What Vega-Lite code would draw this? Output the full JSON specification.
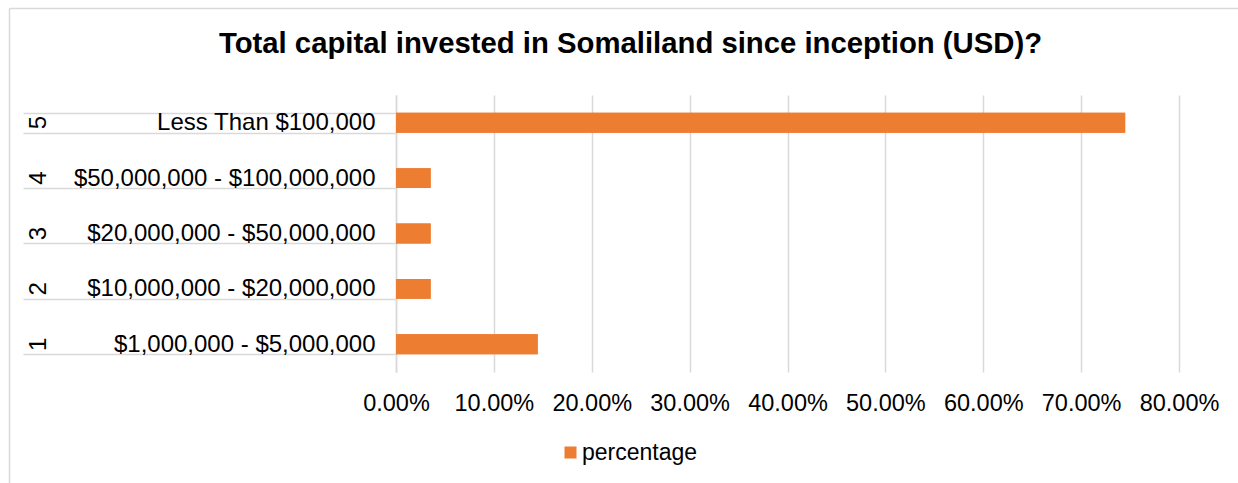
{
  "$schema": "https://vega.github.io/schema/vega-lite/v6.json",
  "autosize": {"type": "none"},
  "width": 783,
  "height": 277,
  "padding": {"left": 396, "top": 95, "right": 59, "bottom": 111},
  "background": "#ffffff",
  "title": {
    "text": "Total capital invested in Somaliland since inception (USD)?",
    "font": "Liberation Sans",
    "fontSize": 29.3,
    "fontWeight": "bold",
    "color": "#000000",
    "anchor": "middle",
    "frame": "group",
    "dx": -157,
    "baseline": "alphabetic",
    "offset": -74
  },
  "config": {
    "view": {"stroke": null},
    "font": "Liberation Sans",
    "axis": {"labelFont": "Liberation Sans", "labelColor": "#000000", "titleColor": "#000000"}
  },
  "data": {
    "values": [
      {"num": 5, "label": "Less Than $100,000", "pct": 0.745},
      {"num": 4, "label": "$50,000,000 - $100,000,000", "pct": 0.0354},
      {"num": 3, "label": "$20,000,000 - $50,000,000", "pct": 0.0354},
      {"num": 2, "label": "$10,000,000 - $20,000,000", "pct": 0.0354},
      {"num": 1, "label": "$1,000,000 - $5,000,000", "pct": 0.1448}
    ]
  },
  "layer": [
    {
      "mark": {"type": "bar", "color": "#ED7D31"},
      "encoding": {
        "x": {
          "field": "pct",
          "type": "quantitative",
          "scale": {"domain": [0, 0.8], "nice": false},
          "axis": {
            "orient": "bottom",
            "values": [0, 0.1, 0.2, 0.3, 0.4, 0.5, 0.6, 0.7, 0.8],
            "format": ".2%",
            "labelFontSize": 23.5,
            "labelPadding": 19,
            "labelOverlap": false,
            "labelFlush": false,
            "ticks": false,
            "domain": false,
            "grid": true,
            "gridColor": "#d9d9d9",
            "gridWidth": 1.5,
            "title": null
          }
        },
        "y": {
          "field": "label",
          "type": "nominal",
          "sort": {"field": "num", "order": "descending"},
          "scale": {"paddingInner": 0.64, "paddingOuter": 0.32},
          "axis": {
            "orient": "left",
            "domain": true,
            "domainColor": "#d9d9d9",
            "domainWidth": 1.5,
            "ticks": true,
            "tickBand": "extent",
            "tickSize": 373,
            "tickColor": "#d9d9d9",
            "tickWidth": 1.5,
            "labelPadding": -352,
            "labelFontSize": 24,
            "labelAlign": "right",
            "labelLimit": 0,
            "labelOverlap": false,
            "title": null
          }
        },
        "color": {
          "datum": "percentage",
          "type": "nominal",
          "scale": {"range": ["#ED7D31"]},
          "legend": {
            "orient": "none",
            "legendX": 163,
            "legendY": 346,
            "title": null,
            "symbolType": "square",
            "symbolSize": 144,
            "symbolStrokeWidth": 0,
            "labelFontSize": 23,
            "labelColor": "#000000",
            "labelOffset": 0,
            "labelFont": "Liberation Sans"
          }
        }
      }
    },
    {
      "mark": {"type": "bar", "color": "#ED7D31"},
      "encoding": {
        "x": {
          "field": "pct",
          "type": "quantitative",
          "scale": {"domain": [0, 0.8], "nice": false},
          "axis": null
        },
        "y": {
          "field": "num",
          "type": "ordinal",
          "sort": "descending",
          "scale": {"paddingInner": 0.64, "paddingOuter": 0.32},
          "axis": {
            "orient": "left",
            "domain": false,
            "ticks": false,
            "labelAngle": 270,
            "labelAlign": "center",
            "labelBaseline": "middle",
            "labelPadding": 358,
            "labelFontSize": 24,
            "title": null
          }
        }
      }
    },
    {
      "mark": {"type": "bar", "opacity": 0},
      "encoding": {
        "x": {
          "field": "pct",
          "type": "quantitative",
          "scale": {"domain": [0, 1], "range": [-387, 850]},
          "axis": {
            "orient": "top",
            "offset": 87,
            "domain": true,
            "domainColor": "#d9d9d9",
            "domainWidth": 1.5,
            "labels": false,
            "ticks": false,
            "grid": false,
            "title": null
          }
        },
        "y": {
          "field": "pct",
          "type": "quantitative",
          "scale": {"domain": [0, 1], "range": [500, -87]},
          "axis": {
            "orient": "left",
            "offset": 387,
            "domain": true,
            "domainColor": "#d9d9d9",
            "domainWidth": 1.5,
            "labels": false,
            "ticks": false,
            "grid": false,
            "title": null
          }
        }
      }
    }
  ],
  "resolve": {"scale": {"x": "independent", "y": "independent"}}
}
